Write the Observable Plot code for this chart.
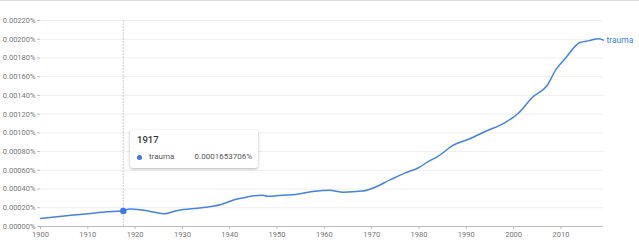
<!DOCTYPE html>
<html>
<head>
<meta charset="utf-8">
<script src="https://cdn.jsdelivr.net/npm/d3@7"></script>
<script src="https://cdn.jsdelivr.net/npm/@observablehq/plot@0.6"></script>
<style>
  html, body { margin: 0; padding: 0; background: #fff; }
  #wrap { position: relative; width: 639px; height: 242px; font-family: Roboto, "Noto Sans", sans-serif; }
  #wrap svg { display: block; }
  #wrap svg g[aria-label$="tick"] path { stroke: #bbb; }
  #topline { position: absolute; left: 0; top: 0; width: 639px; height: 1px; background: #dcdcdc; }
  #tip { position: absolute; left: 130px; top: 130px; width: 128px; height: 38px; background: #fff;
         border-radius: 3px; box-shadow: 0 1px 3px rgba(0,0,0,0.3); box-sizing: border-box; }
  #tip .yr { position: absolute; left: 7px; top: 4px; font-size: 9.5px; font-weight: 500; color: #333; }
  #tip .dot { position: absolute; left: 6.5px; top: 25px; width: 5px; height: 5px; border-radius: 50%; background: #3b78e7; }
  #tip .nm { position: absolute; left: 19px; top: 22px; font-size: 8px; color: #555; }
  #tip .val { position: absolute; right: 6px; top: 22px; font-size: 8px; color: #555; }
</style>
</head>
<body>
<div id="wrap"><div id="topline"></div></div>
<script>
const years = [1900, 1904, 1907, 1910, 1914, 1917, 1919, 1923, 1926, 1929, 1934, 1938, 1941, 1943, 1945, 1947, 1948, 1951, 1954, 1958, 1961, 1964, 1968, 1970, 1974, 1977, 1980, 1982, 1984, 1987, 1991, 1994, 1998, 2001, 2004, 2007, 2009, 2011, 2014, 2016, 2018, 2019];
const trauma = [0.000085, 0.000107, 0.000122, 0.000136, 0.000157, 0.0001653706, 0.000186, 0.000164, 0.000136, 0.000172, 0.000200, 0.000232, 0.000286, 0.000308, 0.000329, 0.000333, 0.000322, 0.000333, 0.000343, 0.000376, 0.000386, 0.000366, 0.000378, 0.000405, 0.000501, 0.000570, 0.000630, 0.000695, 0.000748, 0.000860, 0.000943, 0.001015, 0.001104, 0.001210, 0.001380, 0.001500, 0.001680, 0.001800, 0.001965, 0.001985, 0.002006, 0.001990];
const yTicks = [0, 0.0002, 0.0004, 0.0006, 0.0008, 0.0010, 0.0012, 0.0014, 0.0016, 0.0018, 0.0020, 0.0022];
const xTicks = [1900, 1910, 1920, 1930, 1940, 1950, 1960, 1970, 1980, 1990, 2000, 2010];
const seriesName = "trauma";
const hoverYear = 1917;
const hoverValue = 0.0001653706;

const data = years.map((y, i) => ({year: y, value: trauma[i]}));
const blue = "#4482e6";

const chart = Plot.plot({
  width: 639,
  height: 242,
  marginLeft: 40,
  marginRight: 36,
  marginTop: 20,
  marginBottom: 16,
  style: {fontFamily: "Roboto, sans-serif", fontSize: "7.5px", color: "#777", background: "transparent"},
  x: {domain: [1900, 2019], ticks: xTicks, tickFormat: d => String(d), tickSize: 3, tickPadding: 2, label: null},
  y: {domain: [0, 0.0022], ticks: yTicks, tickFormat: d => d.toFixed(5) + "%", tickSize: 3, tickPadding: 2, label: null},
  marks: [
    Plot.gridY(yTicks, {stroke: "#efefef", strokeOpacity: 1}),
    Plot.ruleY([0], {stroke: "#bdbdbd"}),
    Plot.ruleX([hoverYear + 0.5], {stroke: "#cfcfcf", strokeDasharray: "2,1"}),
    Plot.line(data, {x: "year", y: "value", stroke: blue, strokeWidth: 1.5, curve: "monotone-x"}),
    Plot.dot([{year: hoverYear + 0.5, value: hoverValue}], {x: "year", y: "value", r: 3.2, fill: "#3b78e7", stroke: "none"}),
    Plot.text([data[data.length - 1]], {x: "year", y: "value", text: () => seriesName, dx: 3, textAnchor: "start", fill: blue, fontSize: 8.5})
  ]
});
const wrap = document.getElementById("wrap");
wrap.appendChild(chart);

const tip = document.createElement("div");
tip.id = "tip";
tip.innerHTML = `<div class="yr">${hoverYear}</div><div class="dot"></div><div class="nm">${seriesName}</div><div class="val">${hoverValue.toFixed(10)}%</div>`;
wrap.appendChild(tip);
</script>
</body>
</html>
